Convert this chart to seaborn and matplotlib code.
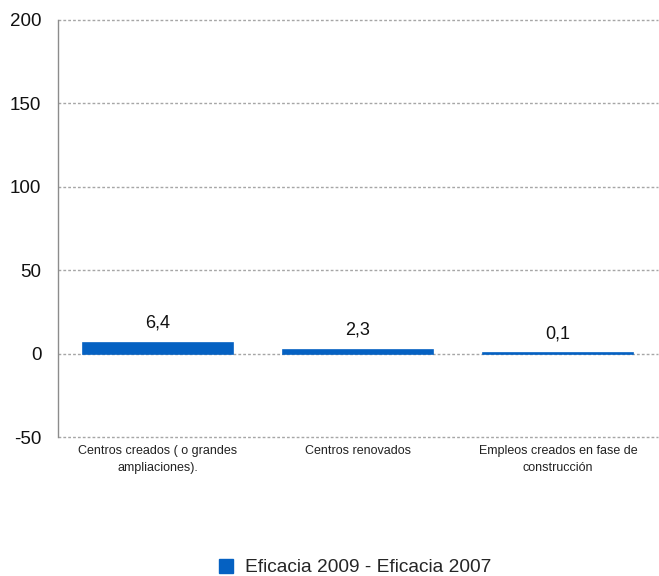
import matplotlib
matplotlib.use("Agg")
import matplotlib.pyplot as plt
import pandas as pd
import seaborn as sns

# Data
categories = ["Centros creados ( o grandes\nampliaciones).",
              "Centros renovados",
              "Empleos creados en fase de\nconstrucción"]
values = [6.4, 2.3, 0.1]
series_name = "Eficacia 2009 - Eficacia 2007"
y_ticks = [-50, 0, 50, 100, 150, 200]

BLUE = "#0561C2"
GRID = "#a6a6a6"


def main():
    sns.set_style("white")
    plt.rcParams["font.family"] = ["Liberation Sans", "DejaVu Sans"]

    df = pd.DataFrame({"Categoria": categories, "Valor": values, "Serie": series_name})

    fig = plt.figure(figsize=(6.59, 5.76), dpi=100)
    ax = fig.add_axes([0.088, 0.2413, 0.9105, 0.724])

    sns.barplot(data=df, x="Categoria", y="Valor", hue="Serie", palette=[BLUE],
                width=0.75, ax=ax, legend=False, saturation=1,
                edgecolor=BLUE, linewidth=1.2)

    ax.set_ylim(-50, 200)
    ax.set_yticks(y_ticks)
    ax.set_yticklabels([str(t) for t in y_ticks], fontsize=13.5, color="#111111")
    ax.set_xlim(-0.5, 2.5)
    ax.set_xlabel("")
    ax.set_ylabel("")
    ax.tick_params(axis="x", length=0, pad=6)
    ax.tick_params(axis="y", length=0, pad=12)
    for lbl in ax.get_xticklabels():
        lbl.set_fontsize(9)
        lbl.set_linespacing(1.5)
        lbl.set_color("#222222")

    # dashed horizontal gridlines
    for t in y_ticks:
        ax.axhline(t, color=GRID, lw=1, ls=(0, (2, 1.5)), zorder=0, clip_on=False)

    for side in ["top", "right", "bottom"]:
        ax.spines[side].set_visible(False)
    ax.spines["left"].set_color("#8c8c8c")
    ax.spines["left"].set_linewidth(1)

    labels = [f"{v:.1f}".replace(".", ",") for v in values]
    ax.bar_label(ax.containers[0], labels=labels, padding=8, fontsize=13,
                 color="#111111")

    handle = plt.Rectangle((0, 0), 1, 1, color=BLUE)
    fig.legend([handle], [series_name], loc="center", bbox_to_anchor=(0.539, 0.015),
               frameon=False, fontsize=13.8, handlelength=0.75, handleheight=0.75,
               handletextpad=0.6)

    fig.savefig("out.png", dpi=100)
    plt.close(fig)


if __name__ == "__main__":
    main()
